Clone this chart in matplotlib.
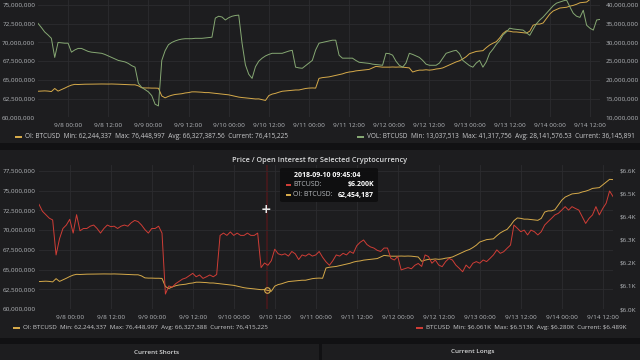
import matplotlib
matplotlib.use('Agg')
import matplotlib.pyplot as plt
import matplotlib.dates as mdates
from matplotlib.patches import Rectangle, FancyBboxPatch
from matplotlib.ticker import FuncFormatter
import numpy as np
import pandas as pd

# hourly samples, 2018-09-07 15:00 .. 2018-09-14 15:00
times = pd.date_range('2018-09-07 15:00', periods=169, freq='h')

# BTCUSD price, in $K
price_k = [
    6.455, 6.425, 6.41, 6.395, 6.387, 6.235, 6.305, 6.35, 6.365, 6.39, 6.33, 6.41,
    6.34, 6.35, 6.35, 6.36, 6.365, 6.35, 6.33, 6.35, 6.365, 6.358, 6.36, 6.35,
    6.36, 6.365, 6.36, 6.375, 6.385, 6.38, 6.365, 6.345, 6.33, 6.35, 6.35, 6.36,
    6.33, 6.065, 6.10, 6.095, 6.11, 6.12, 6.13, 6.135, 6.145, 6.155, 6.14, 6.148,
    6.133, 6.14, 6.148, 6.14, 6.15, 6.32, 6.33, 6.32, 6.335, 6.32, 6.33, 6.32,
    6.32, 6.33, 6.32, 6.32, 6.33, 6.18, 6.20, 6.19, 6.21, 6.26, 6.24, 6.235,
    6.24, 6.23, 6.25, 6.24, 6.215, 6.235, 6.23, 6.24, 6.23, 6.235, 6.25, 6.225,
    6.205, 6.19, 6.21, 6.235, 6.23, 6.242, 6.235, 6.25, 6.242, 6.275, 6.29, 6.30,
    6.28, 6.27, 6.265, 6.255, 6.25, 6.265, 6.265, 6.22, 6.213, 6.228, 6.17, 6.175,
    6.18, 6.175, 6.19, 6.198, 6.185, 6.235, 6.228, 6.199, 6.213, 6.191, 6.184, 6.206,
    6.22, 6.213, 6.191, 6.177, 6.162, 6.191, 6.177, 6.199, 6.206, 6.199, 6.213, 6.206,
    6.22, 6.235, 6.257, 6.242, 6.249, 6.264, 6.278, 6.365, 6.351, 6.336, 6.343, 6.322,
    6.343, 6.336, 6.322, 6.336, 6.365, 6.38, 6.394, 6.409, 6.416, 6.43, 6.445, 6.43,
    6.445, 6.437, 6.43, 6.401, 6.372, 6.394, 6.409, 6.445, 6.409, 6.437, 6.46, 6.513,
    6.489,
]

# open interest, millions
oi_m = [
    63.48, 63.5, 63.53, 63.5, 63.44, 63.85, 63.5, 63.7, 63.9, 64.12, 64.3, 64.4,
    64.38, 64.4, 64.42, 64.42, 64.43, 64.44, 64.44, 64.45, 64.44, 64.44, 64.45, 64.44,
    64.42, 64.4, 64.38, 64.36, 64.34, 64.34, 64.2, 63.95, 63.92, 63.92, 63.9, 63.9,
    63.88, 62.85, 62.6, 62.8, 62.95, 63.05, 63.1, 63.15, 63.25, 63.3, 63.4, 63.4,
    63.38, 63.35, 63.3, 63.3, 63.25, 63.2, 63.15, 63.1, 63.05, 63.0, 62.9, 62.8,
    62.7, 62.64, 62.6, 62.55, 62.5, 62.45, 62.46, 62.35, 62.25, 62.9, 63.1, 63.2,
    63.35, 63.48, 63.52, 63.55, 63.6, 63.65, 63.65, 63.75, 63.85, 63.9, 63.92, 63.9,
    65.2, 65.3, 65.35, 65.4, 65.5, 65.6, 65.7, 65.8, 65.95, 66.05, 66.1, 66.2,
    66.25, 66.3, 66.35, 66.4, 66.6, 66.8, 66.75, 66.7, 66.7, 66.7, 66.72, 66.7,
    66.72, 66.7, 66.65, 66.6, 66.05, 66.2, 66.3, 66.3, 66.35, 66.3, 66.35, 66.45,
    66.5, 66.6, 66.8, 67.0, 67.2, 67.4, 67.55, 67.8, 68.1, 68.5, 68.65, 68.8,
    68.85, 68.9, 69.3, 69.65, 69.9, 70.1, 70.6, 71.2, 71.55, 71.5, 71.4, 71.4,
    71.35, 71.3, 71.25, 71.5, 72.3, 72.45, 72.45, 72.6, 73.2, 73.8, 74.2, 74.4,
    74.6, 74.65, 74.7, 74.85, 74.95, 75.1, 75.3, 75.35, 75.4, 75.75, 76.1, 76.45,
    76.415,
]

# volume, millions
vol_m = [
    35.1, 34.0, 32.8, 32.0, 31.1, 26.0, 30.0, 29.9, 29.8, 29.8, 27.4, 28.0,
    28.4, 28.4, 28.0, 27.6, 27.4, 27.3, 27.2, 27.1, 26.8, 26.4, 26.0, 25.6,
    25.2, 25.0, 24.8, 24.4, 23.8, 23.4, 19.1, 18.0, 17.4, 16.8, 15.8, 13.5,
    13.04, 25.2, 27.8, 29.4, 30.0, 30.4, 30.7, 30.9, 31.0, 31.0, 31.0, 31.1,
    31.1, 31.1, 31.2, 31.3, 31.4, 36.5, 37.0, 36.8, 36.0, 36.6, 37.0, 37.2,
    37.3, 29.8, 24.0, 21.5, 20.4, 23.5, 25.0, 25.8, 26.4, 26.8, 27.1, 27.1,
    27.1, 27.1, 27.4, 27.7, 27.9, 23.4, 23.2, 23.1, 23.8, 24.5, 25.2, 28.0,
    29.8, 30.0, 30.2, 30.4, 30.6, 30.6, 26.6, 25.8, 25.8, 25.8, 25.8, 25.2,
    24.7, 24.6, 24.5, 24.4, 24.2, 24.1, 24.0, 23.9, 27.1, 27.0, 26.6, 25.0,
    23.9, 23.4, 24.5, 27.1, 26.8, 26.4, 26.0, 25.2, 24.2, 23.9, 23.9, 23.9,
    24.5, 25.8, 27.1, 27.4, 27.7, 27.9, 27.0, 25.2, 24.5, 23.8, 23.4, 24.5,
    25.2, 23.4, 24.8, 27.1, 28.2, 29.5, 30.5, 32.0, 32.8, 33.8, 33.6, 33.5,
    33.4, 33.3, 32.6, 31.9, 33.5, 35.0, 36.0, 36.8, 37.8, 38.8, 39.8, 40.5,
    40.8, 41.1, 41.32, 39.5, 37.8, 37.0, 36.7, 38.6, 34.6, 33.8, 33.3, 36.0,
    36.15,
]

hover_time = pd.Timestamp('2018-09-10 09:45:04')
hover_price = '$6.200K'
hover_oi = 62454187

oi_legend = 'OI: BTCUSD  Min: 62,244,337  Max: 76,448,997  Avg: 66,327,387.56  Current: 76,415,225'
vol_legend = 'VOL: BTCUSD  Min: 13,037,513  Max: 41,317,756  Avg: 28,141,576.53  Current: 36,145,891'
oi_legend2 = 'OI: BTCUSD  Min: 62,244,337  Max: 76,448,997  Avg: 66,327,388  Current: 76,415,225'
price_legend = 'BTCUSD  Min: $6.061K  Max: $6.513K  Avg: $6.280K  Current: $6.489K'

PAGE_BG = '#111113'
PANEL_BG = '#1d1d1f'
GRID = '#2c2c2f'
TICK_C = '#b5b8bc'
TEXT_C = '#d8d9da'
OI_C = '#d6aa4a'
VOL_C = '#86a873'
PRICE_C = '#cf3d36'
TICK_FS = 4.6

plt.rcParams['font.family'] = ['Open Sans', 'DejaVu Sans']

W, H = 640, 360
fig = plt.figure(figsize=(6.4, 3.6), dpi=100)
fig.patch.set_facecolor(PAGE_BG)


def box(x0, y0, x1, y1):
    return [x0 / W, 1 - y1 / H, (x1 - x0) / W, (y1 - y0) / H]


def panel(x0, y0, x1, y1):
    fig.add_artist(Rectangle((x0 / W, 1 - y1 / H), (x1 - x0) / W, (y1 - y0) / H,
                             transform=fig.transFigure, fc=PANEL_BG, ec='none', zorder=-5))


def ftext(x, y, s, **kw):
    kw.setdefault('color', TEXT_C)
    kw.setdefault('fontsize', 5)
    kw.setdefault('va', 'center')
    return fig.text(x / W, 1 - y / H, s, parse_math=False, **kw)


def legend(x, y, color, label, fs):
    fig.add_artist(Rectangle((x / W, 1 - (y + 1) / H), 7 / W, 2 / H,
                             transform=fig.transFigure, fc=color, ec='none'))
    ftext(x + 10, y, label, fontsize=fs, color='#c9cacc')


def style(ax):
    ax.set_facecolor('none')
    for s in ax.spines.values():
        s.set_visible(False)
    ax.tick_params(length=0, labelsize=TICK_FS, colors=TICK_C)


def date_fmt(v, _):
    d = mdates.num2date(v)
    return f'{d.month}/{d.day} {d:%H:%M}'


panel(0, 0, 640, 143)
panel(0, 150, 640, 338)
panel(0, 344, 319, 360)
panel(322, 344, 640, 360)

# ---- top panel: OI / volume
ax1 = fig.add_axes(box(38, 0, 600, 117.3))
style(ax1)
ax1.plot(times, np.array(oi_m) * 1e6, color=OI_C, lw=0.7)
ax1.set_ylim(60e6, 75.67e6)
ax1.set_yticks(np.arange(60e6, 75.1e6, 2.5e6))
ax1.yaxis.set_major_formatter(FuncFormatter(lambda v, _: f'{v:,.0f}'))
ax1.grid(True, color=GRID, lw=0.6)
ax1.tick_params(axis='y', pad=2)
ax1.tick_params(axis='x', pad=4)
ax1.xaxis.set_major_locator(mdates.HourLocator(byhour=[0, 12]))
ax1.xaxis.set_major_formatter(FuncFormatter(date_fmt))
ax1.set_xlim(times[0], times[-1])

ax1r = ax1.twinx()
style(ax1r)
ax1r.plot(times, np.array(vol_m) * 1e6, color=VOL_C, lw=0.7)
ax1r.set_ylim(10e6, 41.34e6)
ax1r.set_yticks(np.arange(10e6, 40.1e6, 5e6))
ax1r.yaxis.set_major_formatter(FuncFormatter(lambda v, _: f'{v:,.0f}'))
ax1r.tick_params(axis='y', pad=4)

legend(15, 137, OI_C, oi_legend, 4.7)
legend(357, 137, VOL_C, vol_legend, 4.7)

# ---- bottom panel: price / OI
ftext(320, 160, 'Price / Open Interest for Selected Cryptocurrency',
      ha='center', fontsize=5.3, fontweight='semibold')

ax2 = fig.add_axes(box(39, 165, 613, 309))
style(ax2)
ax2.plot(times, np.array(oi_m) * 1e6, color=OI_C, lw=0.7)
ax2.set_ylim(60e6, 78.27e6)
ax2.set_yticks(np.arange(60e6, 77.6e6, 2.5e6))
ax2.yaxis.set_major_formatter(FuncFormatter(lambda v, _: f'{v:,.0f}'))
ax2.grid(True, color=GRID, lw=0.6)
ax2.xaxis.set_major_locator(mdates.HourLocator(byhour=[0, 12]))
ax2.xaxis.set_major_formatter(FuncFormatter(date_fmt))
ax2.set_xlim(times[0], times[-1])
ax2.tick_params(axis='y', pad=2.5)
ax2.tick_params(axis='x', pad=4)
ax2.axvline(hover_time, color='#45191c', lw=1.3, zorder=0.5)
ax2.plot([hover_time], [hover_oi], 'o', mfc='none', mec=OI_C, ms=4, mew=0.8)

ax2r = ax2.twinx()
style(ax2r)
ax2r.plot(times, price_k, color=PRICE_C, lw=0.7)
ax2r.set_ylim(6.0, 6.626)
ax2r.set_yticks(np.arange(6.0, 6.61, 0.1))
ax2r.yaxis.set_major_formatter(FuncFormatter(lambda v, _: f'${v:.1f}K'))
ax2r.tick_params(axis='y', pad=5)

legend(13, 328, OI_C, oi_legend2, 4.5)
legend(416, 328, PRICE_C, price_legend, 4.5)

# tooltip
fig.add_artist(FancyBboxPatch((280 / W, 1 - 202 / H), 98 / W, 34 / H,
                              boxstyle='round,pad=0,rounding_size=0.004',
                              transform=fig.transFigure, fc='#0e0e0f', ec='none',
                              alpha=0.92, zorder=5))
ftext(327, 175, f'{hover_time:%Y-%m-%d %H:%M:%S}', ha='center', fontweight='bold',
      color='#ffffff', zorder=6)
for y, c, lab, val in [(185, PRICE_C, 'BTCUSD:', hover_price),
                       (195, OI_C, 'OI: BTCUSD:', f'{hover_oi:,}')]:
    fig.add_artist(Rectangle((286 / W, 1 - (y + 1) / H), 5 / W, 2 / H,
                             transform=fig.transFigure, fc=c, ec='none', zorder=6))
    ftext(293, y, lab, color='#b5b8bc', zorder=6)
    ftext(374, y, val, ha='right', fontweight='bold', color='#ffffff', zorder=6)

# mouse cursor
ftext(266, 209, '+', ha='center', fontsize=9, fontweight='bold', color='#e8e8e8',
      family='DejaVu Sans')

ftext(157, 352, 'Current Shorts', ha='center', fontsize=4.6, fontweight='semibold')
ftext(473, 352, 'Current Longs', ha='center', fontsize=4.6, fontweight='semibold')

fig.savefig('out.png', dpi=100, facecolor=PAGE_BG)
